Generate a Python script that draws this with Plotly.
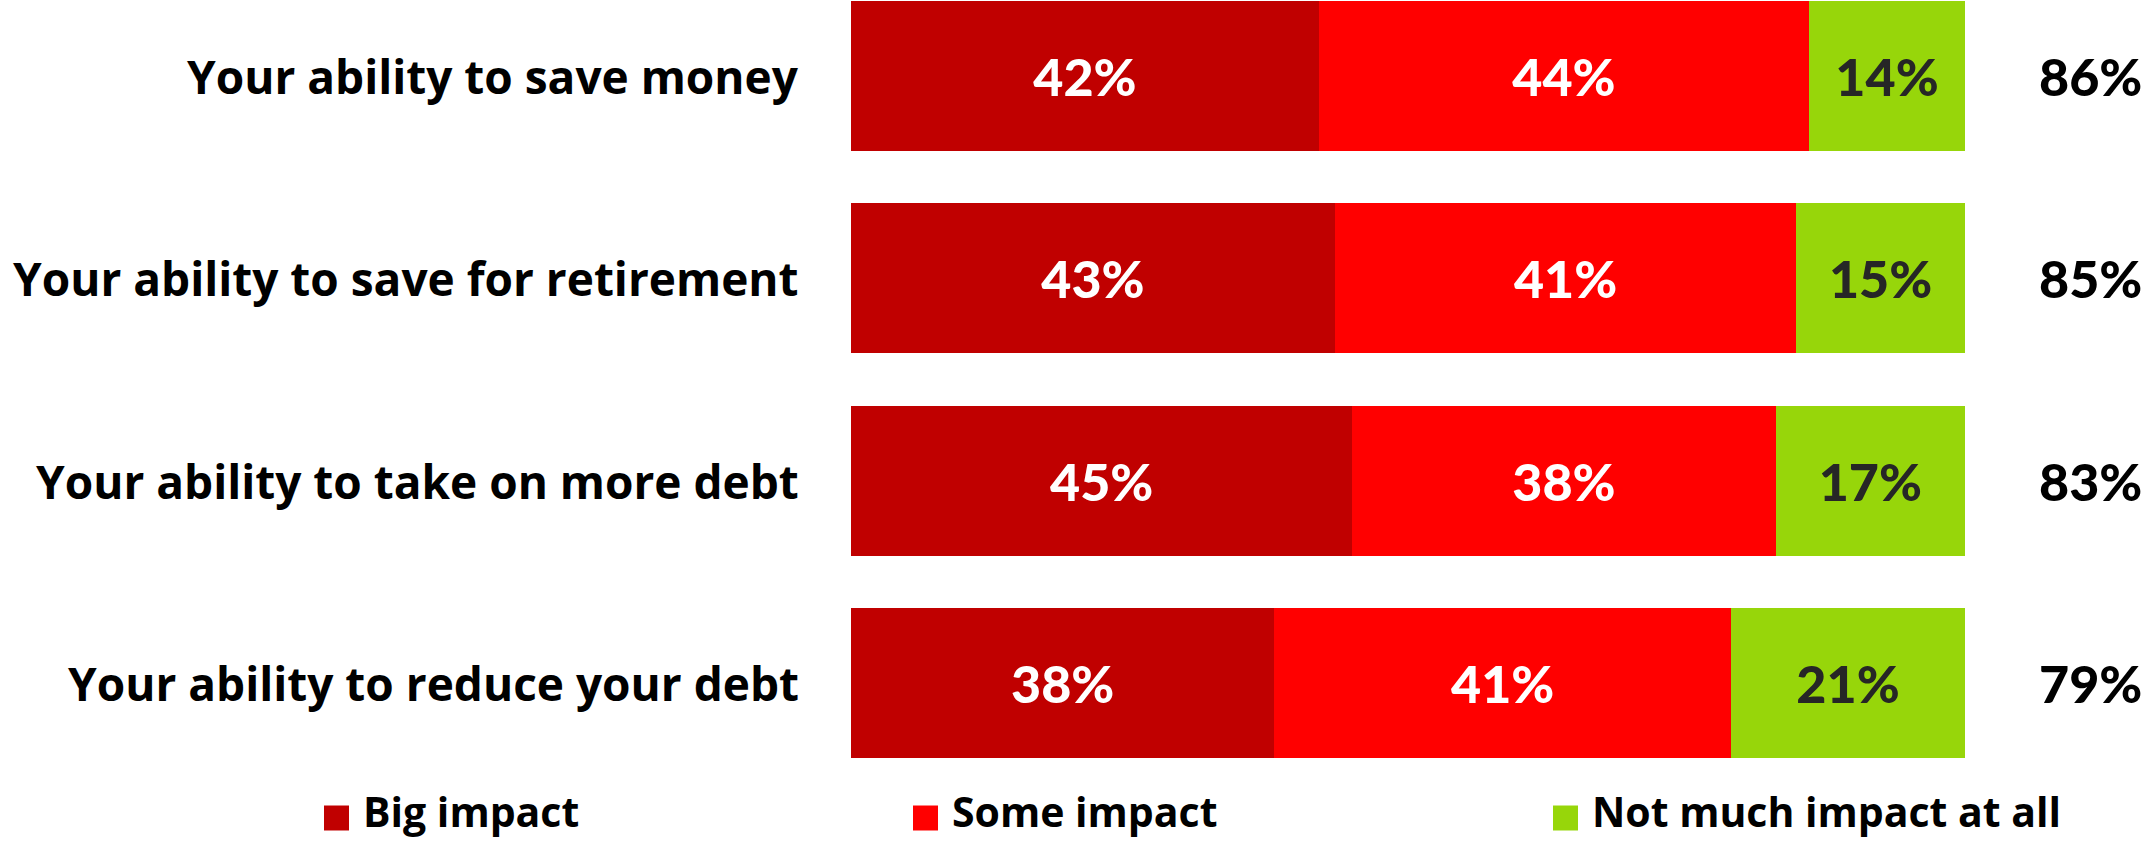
import plotly.graph_objects as go

# Survey items and shares of respondents (percent)
categories = [
    "Your ability to save money",
    "Your ability to save for retirement",
    "Your ability to take on more debt",
    "Your ability to reduce your debt",
]
big_impact = [42, 43, 45, 38]
some_impact = [44, 41, 38, 41]
not_much_impact = [14, 15, 17, 21]
# Net "any impact" share shown to the right of each bar
net_impact = [86, 85, 83, 79]

series_names = ["Big impact", "Some impact", "Not much impact at all"]
series_values = [big_impact, some_impact, not_much_impact]
series_colors = ["#C00000", "#FF0000", "#97D60A"]
text_colors = ["#FFFFFF", "#FFFFFF", "#262626"]

FONT = "Open Sans"
VAL_FONT = "Lato"
W, H = 2143, 841

fig = go.Figure()
for name, vals, col, tcol in zip(series_names, series_values, series_colors, text_colors):
    fig.add_trace(go.Bar(
        y=categories,
        x=vals,
        name=name,
        orientation="h",
        marker=dict(color=col, line=dict(width=0)),
        text=[f"{v}%" for v in vals],
        textposition="inside",
        insidetextanchor="middle",
        textangle=0,
        textfont=dict(family=VAL_FONT, size=52, color=tcol, weight=900),
        showlegend=False,
        hoverinfo="skip",
    ))

# plot area placement in figure pixels
x0_px, x1_px = 851, 1965
y_bottom_px = 760
fig.update_layout(
    width=W, height=H,
    margin=dict(l=0, r=0, t=0, b=0),
    paper_bgcolor="white", plot_bgcolor="white",
    barmode="stack", barnorm="percent", bargap=0.26,
    xaxis=dict(domain=[x0_px / W, x1_px / W], range=[0, 100],
               visible=False, fixedrange=True),
    yaxis=dict(domain=[1 - y_bottom_px / H, 1], range=[3.3806, -0.3756],
               visible=False, type="category", fixedrange=True),
)

annotations = []
# category labels to the left of the bars
for cat in categories:
    annotations.append(dict(
        x=801 / W, xref="paper", y=cat, yref="y",
        text=cat, showarrow=False, xanchor="right", yanchor="middle",
        font=dict(family=FONT, size=46, color="#000000", weight="bold"),
    ))
# net totals on the right
for cat, tot in zip(categories, net_impact):
    annotations.append(dict(
        x=2090 / W, xref="paper", y=cat, yref="y",
        text=f"{tot}%", showarrow=False, xanchor="center", yanchor="middle",
        font=dict(family=VAL_FONT, size=52, color="#000000", weight=900),
    ))

# legend row under the chart
legend_x_px = [324, 913, 1553]
sw = 25
legend_cy_px = 818
shapes = []
for name, col, lx in zip(series_names, series_colors, legend_x_px):
    shapes.append(dict(
        type="rect", xref="paper", yref="paper",
        x0=lx / W, x1=(lx + sw) / W,
        y0=1 - (legend_cy_px + sw / 2) / H, y1=1 - (legend_cy_px - sw / 2) / H,
        fillcolor=col, line=dict(width=0),
    ))
    annotations.append(dict(
        x=(lx + sw + 12) / W, xref="paper",
        y=0, yref="paper",
        text=name, showarrow=False, xanchor="left", yanchor="bottom",
        font=dict(family=FONT, size=41, color="#000000", weight="bold"),
    ))

fig.update_layout(annotations=annotations, shapes=shapes)
fig.write_html("out.html")
